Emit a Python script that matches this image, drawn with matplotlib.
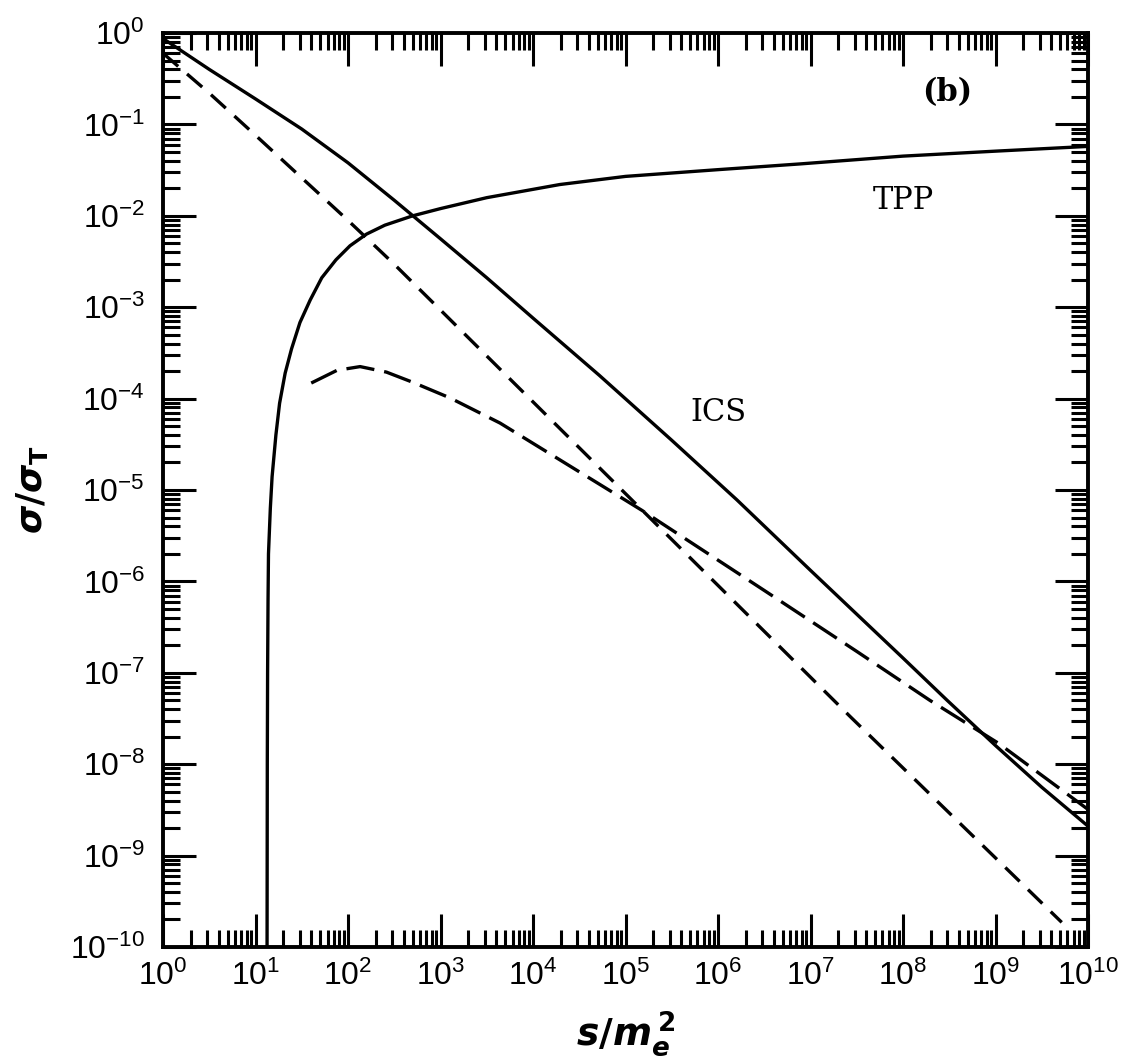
import numpy as np
import matplotlib
matplotlib.use("Agg")
from matplotlib import pyplot as plt
from matplotlib.ticker import LogLocator, NullFormatter

# values (x = s/m_e^2, y = sigma/sigma_T)
ics_x = [1.0, 3.16e0, 1.0e1, 3.16e1, 1.0e2, 3.16e2, 1.0e3, 3.16e3, 1.0e4, 5.2e4,
         3.16e5, 1.6e6, 1.0e7, 1.0e8, 3.0e8, 1.0e9, 3.16e9, 1.0e10]
ics_y = [0.87, 0.40, 0.19, 8.9e-2, 3.8e-2, 1.48e-2, 5.6e-3, 2.1e-3, 7.6e-4, 1.8e-4,
         3.5e-5, 7.8e-6, 1.32e-6, 1.45e-7, 5.0e-8, 1.6e-8, 5.6e-9, 2.1e-9]

dash_x = [1.0, 3.16e0, 1.0e1, 3.16e1, 1.0e2, 3.16e2, 1.0e3, 4.2e3, 2.7e7, 5.2e9]
dash_y = [0.60, 0.22, 7.6e-2, 2.6e-2, 8.9e-3, 2.95e-3, 9.3e-4, 2.2e-4, 3.3e-8, 1.86e-10]

tpp_x = [1.33e1, 1.34e1, 1.35e1, 1.365e1, 1.38e1, 1.445e1, 1.51e1, 1.66e1, 1.82e1, 2.09e1,
         2.45e1, 3.02e1, 3.9e1, 5.2e1, 7.4e1, 1.05e2, 1.58e2, 2.5e2, 5.0e2, 1.0e3,
         3.16e3, 1.95e4, 1.0e5, 1.0e6, 7.8e6, 1.0e8, 1.0e9, 1.0e10]
tpp_y = [3e-11, 1e-8, 1e-7, 6.3e-7, 2.0e-6, 6.3e-6, 1.4e-5, 4.0e-5, 8.9e-5, 1.9e-4,
         3.5e-4, 6.8e-4, 1.2e-3, 2.1e-3, 3.3e-3, 4.7e-3, 6.3e-3, 7.9e-3, 1.0e-2, 1.2e-2,
         1.58e-2, 2.2e-2, 2.7e-2, 3.2e-2, 3.7e-2, 4.5e-2, 5.1e-2, 5.75e-2]

lng_x = [4.0e1, 7.6e1, 1.35e2, 2.6e2, 5.0e2, 1.26e3, 4.4e3, 1.5e5, 3.2e6, 3.2e7,
         1.95e8, 1.07e9, 1.0e10]
lng_y = [1.48e-4, 2.04e-4, 2.24e-4, 1.95e-4, 1.51e-4, 1.02e-4, 5.4e-5, 6.0e-6, 7.9e-7, 1.7e-7,
         5.0e-8, 1.7e-8, 3.2e-9]

plt.rcParams["font.family"] = ["Liberation Sans", "DejaVu Sans"]
plt.rcParams["mathtext.fontset"] = "custom"
plt.rcParams["mathtext.it"] = "DejaVu Sans:bold:italic"
plt.rcParams["mathtext.rm"] = "DejaVu Sans:bold"

fig = plt.figure(figsize=(11.37, 10.62), dpi=100)
ax = fig.add_axes([0.1434, 0.1083, 0.8135, 0.8606])

lw = 2.4
ax.plot(ics_x, ics_y, color="black", lw=lw)
ax.plot(dash_x, dash_y, color="black", lw=lw, linestyle=(0, (6, 3.5)))
ax.plot(tpp_x, tpp_y, color="black", lw=lw)
ax.plot(lng_x, lng_y, color="black", lw=lw, linestyle=(0, (8.5, 3)))

ax.set_xscale("log")
ax.set_yscale("log")
ax.set_xlim(1, 1e10)
ax.set_ylim(1e-10, 1)

for axis in (ax.xaxis, ax.yaxis):
    axis.set_major_locator(LogLocator(base=10, numticks=30))
    axis.set_minor_locator(LogLocator(base=10, subs=np.arange(2, 10), numticks=200))
    axis.set_minor_formatter(NullFormatter())

ax.tick_params(which="both", direction="in", top=True, right=True, width=2.2, color="black")
ax.tick_params(which="major", length=24, labelsize=23)
ax.tick_params(which="minor", length=12)
ax.tick_params(axis="x", which="major", pad=10)
ax.tick_params(axis="y", which="major", pad=13)
for sp in ax.spines.values():
    sp.set_linewidth(2.8)

ax.set_xlabel(r"$s/m_e^{\,2}$", fontsize=27, labelpad=12)
ax.set_ylabel(r"$\sigma/\sigma_\mathrm{T}$", fontsize=26, labelpad=14)

ax.text(1.0e8, 1.48e-2, "TPP", fontsize=22, family="DejaVu Serif", ha="center", va="center")
ax.text(1.0e6, 7.1e-5, "ICS", fontsize=22, family="DejaVu Serif", ha="center", va="center")
ax.text(3.0e8, 0.224, "(b)", fontsize=22, family="DejaVu Serif", weight="bold", ha="center", va="center")

fig.savefig("out.png", dpi=100)
